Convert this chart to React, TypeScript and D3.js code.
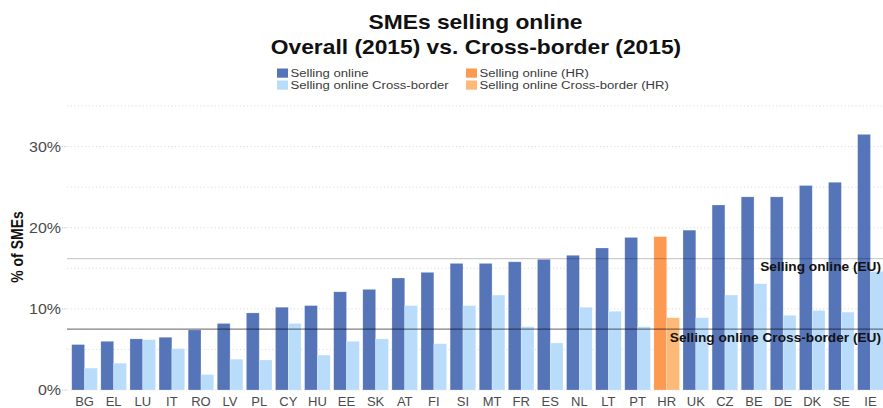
import React from "react";
import * as d3 from "d3";

const countries = ["BG","EL","LU","IT","RO","LV","PL","CY","HU","EE","SK","AT","FI","SI","MT","FR","ES","NL","LT","PT","HR","UK","CZ","BE","DE","DK","SE","IE"];
const sellingOnline = [5.6,6.0,6.3,6.5,7.4,8.2,9.5,10.2,10.4,12.1,12.4,13.8,14.5,15.6,15.6,15.8,16.1,16.6,17.5,18.8,18.9,19.7,22.8,23.8,23.8,25.2,25.6,31.5];
const sellingCrossBorder = [2.7,3.3,6.2,5.1,1.9,3.8,3.7,8.2,4.3,6.0,6.3,10.4,5.7,10.4,11.7,7.8,5.8,10.2,9.7,7.8,8.9,8.9,11.7,13.1,9.2,9.8,9.6,14.6];
const highlight = "HR";
const euSellingOnline = 16.2;
const euCrossBorder = 7.5;
const yTicks = [0, 10, 20, 30];
const gridTicks = [0, 5, 10, 15, 20, 25, 30, 35];
const legendItems = [
  { label: "Selling online", key: "dark" },
  { label: "Selling online Cross-border", key: "light" },
  { label: "Selling online (HR)", key: "hrDark" },
  { label: "Selling online Cross-border (HR)", key: "hrLight" },
];

const W = 883, H = 408;
const SX = 1.14;
const colors: Record<string, string> = {
  dark: "#5675b9",
  light: "#badcfb",
  hrDark: "#fd9a52",
  hrLight: "#fdb977",
};
const FONT = "'Liberation Sans', Arial, sans-serif";

export default function App() {
  const x = d3.scaleBand<string>().domain(countries).range([70, 885]).paddingInner(0.12).paddingOuter(0.06);
  const inner = d3.scaleBand<string>().domain(["overall", "cross"]).range([0, x.bandwidth()]);
  const y = d3.scaleLinear().domain([0, 35]).range([390, 106]);
  const panelLeft = 67;

  const legendPos = [
    { x: 277, y: 68.5 },
    { x: 277, y: 80.5 },
    { x: 466, y: 68.5 },
    { x: 466, y: 80.5 },
  ];

  return (
    <svg width={W} height={H} style={{ position: "fixed", left: 0, top: 0, background: "#fff" }} fontFamily={FONT}>
      <rect x={0} y={0} width={W} height={H} fill="#fff" />
      {/* title */}
      <g transform={`translate(475.5,29.3) scale(${SX},1)`}>
        <text textAnchor="middle" fontSize={20} fontWeight="bold" fill="#111">SMEs selling online</text>
      </g>
      <g transform={`translate(476,54) scale(${SX},1)`}>
        <text textAnchor="middle" fontSize={20} fontWeight="bold" fill="#111">Overall (2015) vs. Cross-border (2015)</text>
      </g>
      {/* legend */}
      {legendItems.map((it, i) => (
        <g key={it.key}>
          <rect x={legendPos[i].x} y={legendPos[i].y} width={11} height={9.2} fill={colors[it.key]} />
          <g transform={`translate(${legendPos[i].x + 13.5},${legendPos[i].y + 8}) scale(${SX},1)`}>
            <text fontSize={11.5} fill="#3a3a3a">{it.label}</text>
          </g>
        </g>
      ))}
      {/* grid */}
      {gridTicks.map((t) => (
        <line key={t} x1={panelLeft} x2={W} y1={y(t)} y2={y(t)} stroke="#d4d4d4" strokeWidth={0.8} strokeDasharray="1.2,2.4" />
      ))}
      {/* y axis ticks */}
      {yTicks.map((t) => (
        <g key={t}>
          <line x1={62} x2={67} y1={y(t)} y2={y(t)} stroke="#aaa" strokeWidth={0.8} strokeDasharray="1.2,1.2" />
          <g transform={`translate(61,${y(t) + 5}) scale(${SX},1)`}>
            <text textAnchor="end" fontSize={14} fill="#4a4a4a">{t}%</text>
          </g>
        </g>
      ))}
      <g transform={`translate(23,247) scale(${SX},1) rotate(-90)`}>
        <text textAnchor="middle" fontSize={14} fontWeight="bold" fill="#111">% of SMEs</text>
      </g>
      {/* bars */}
      {countries.map((c, i) => {
        const x0 = x(c)!;
        const hr = c === highlight;
        return (
          <g key={c}>
            <rect x={x0 + inner("overall")!} y={y(sellingOnline[i])} width={inner.bandwidth()} height={y(0) - y(sellingOnline[i])}
              fill={hr ? colors.hrDark : colors.dark} stroke="#ffffff" strokeOpacity={0.35} strokeWidth={0.6} />
            <rect x={x0 + inner("cross")!} y={y(sellingCrossBorder[i])} width={inner.bandwidth()} height={y(0) - y(sellingCrossBorder[i])}
              fill={hr ? colors.hrLight : colors.light} stroke="#ffffff" strokeOpacity={0.35} strokeWidth={0.6} />
            <text x={x0 + x.bandwidth() / 2} y={405.5} textAnchor="middle" fontSize={13} fill="#4a4a4a">{c}</text>
          </g>
        );
      })}
      {/* EU reference lines */}
      <line x1={panelLeft} x2={W} y1={y(euSellingOnline)} y2={y(euSellingOnline)} stroke="#000" strokeOpacity={0.2} strokeWidth={1.2} />
      <line x1={panelLeft} x2={W} y1={y(euCrossBorder)} y2={y(euCrossBorder)} stroke="#000" strokeOpacity={0.5} strokeWidth={1.2} />
      <g transform={`translate(881,${y(euSellingOnline) + 12.5}) scale(${SX},1)`}>
        <text textAnchor="end" fontSize={12} fontWeight="bold" fill="#111">Selling online (EU)</text>
      </g>
      <g transform={`translate(881,${y(euCrossBorder) + 12.5}) scale(${SX},1)`}>
        <text textAnchor="end" fontSize={12} fontWeight="bold" fill="#111">Selling online Cross-border (EU)</text>
      </g>
    </svg>
  );
}
